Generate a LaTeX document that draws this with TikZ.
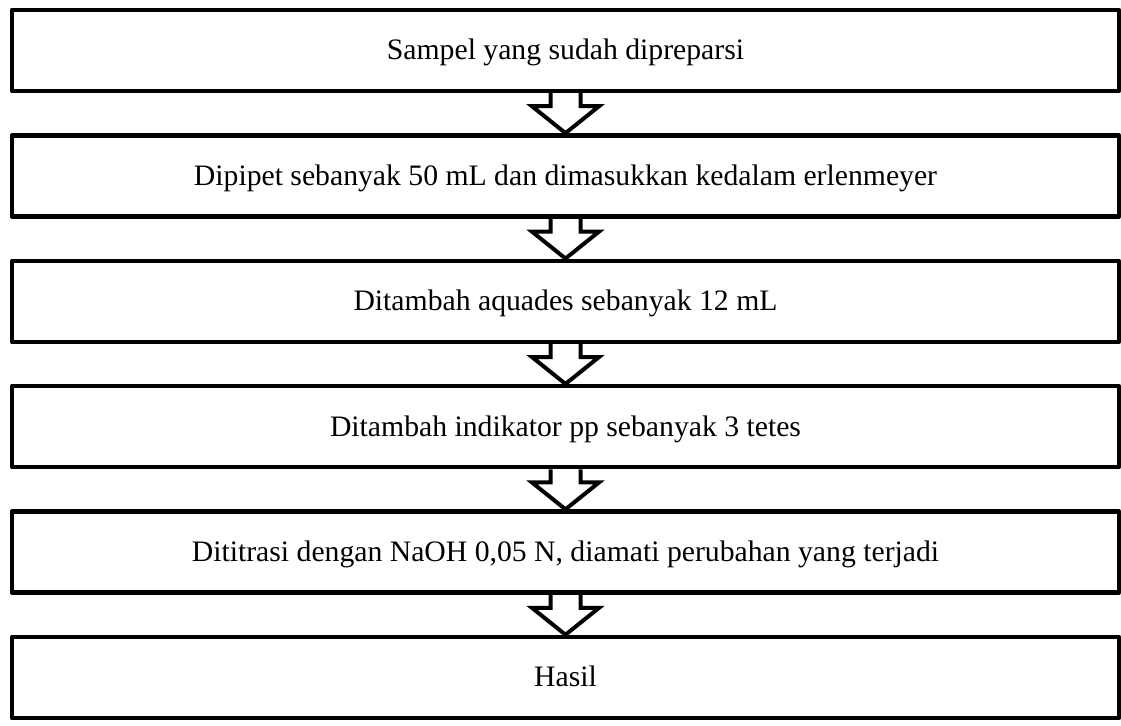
\documentclass[tikz,border=0pt]{standalone}
\usepackage{fontspec}
\setmainfont{Liberation Serif}
\usetikzlibrary{calc}
\begin{document}
\begin{tikzpicture}[x=0.5pt,y=-0.5pt,
  stepbox/.style={draw=black,line width=2.25pt,line join=round,
    minimum width=553.5pt,minimum height=40.5pt,inner sep=0pt,
    text height=12.5pt,text depth=3pt,
    font=\fontsize{14.85}{18}\selectfont},
  flowarrow/.style={draw=black,line width=2pt,line join=miter}]
\useasboundingbox (0,0) rectangle (1121,726);
% process steps
\node[stepbox] (b1) at (565.5,50.5)  {Sampel yang sudah dipreparsi};
\node[stepbox] (b2) at (565.5,175.9) {Dipipet sebanyak 50 mL dan dimasukkan kedalam erlenmeyer};
\node[stepbox] (b3) at (565.5,301.3) {Ditambah aquades sebanyak 12 mL};
\node[stepbox] (b4) at (565.5,426.7) {Ditambah indikator pp sebanyak 3 tetes};
\node[stepbox] (b5) at (565.5,552.1) {Dititrasi dengan NaOH 0,05 N, diamati perubahan yang terjadi};
\node[stepbox] (b6) at (565.5,677.5) {Hasil};
% outlined block arrows between consecutive steps
\foreach \a/\b in {b1/b2,b2/b3,b3/b4,b4/b5,b5/b6}{
  \draw[flowarrow] ($(\a.south)+(-15,0)$) -- ($(\a.south)+(-15,13)$)
    -- ($(\a.south)+(-33.5,13)$) -- (\b.north)
    -- ($(\a.south)+(33.5,13)$) -- ($(\a.south)+(15,13)$)
    -- ($(\a.south)+(15,0)$);
}
\end{tikzpicture}
\end{document}
